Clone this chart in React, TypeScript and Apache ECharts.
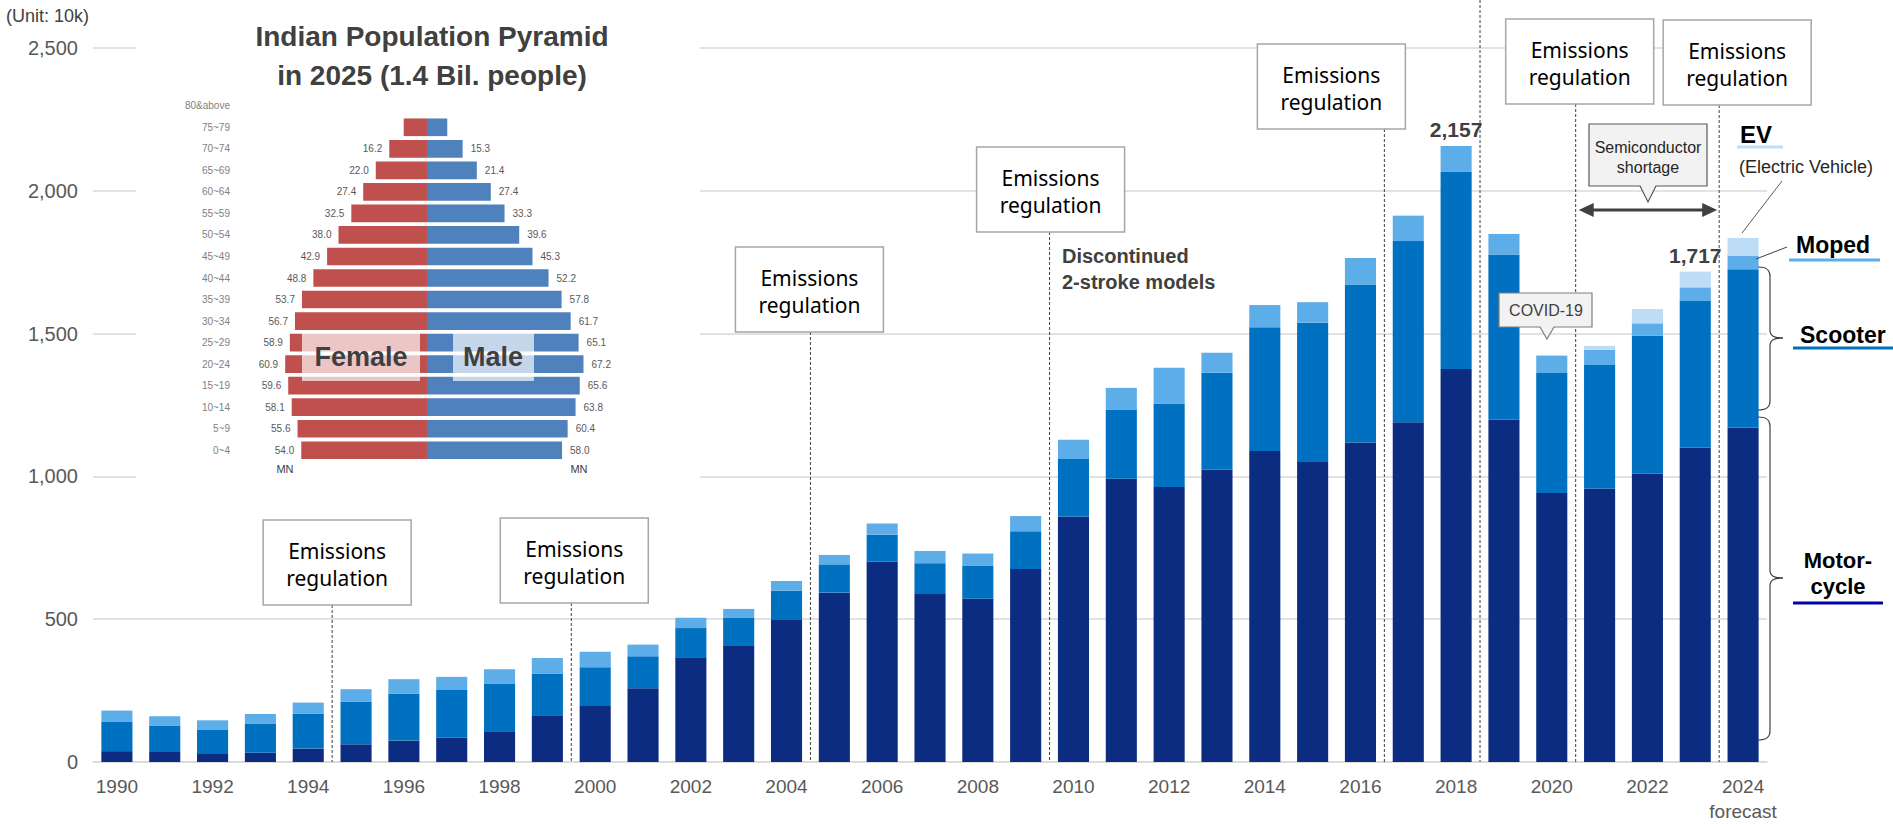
import React, { useEffect, useRef } from 'react';
import * as echarts from 'echarts';

// ---------- data ----------
const years = ['1990','1991','1992','1993','1994','1995','1996','1997','1998','1999','2000','2001','2002','2003','2004','2005','2006','2007','2008','2009','2010','2011','2012','2013','2014','2015','2016','2017','2018','2019','2020','2021','2022','2023','2024'];
const motorcycle = [38,35,28,32,47,62,75,86,108,164,196,258,367,409,497,593,702,588,572,676,860,992,963,1023,1089,1050,1119,1190,1376,1199,942,958,1010,1101,1171];
const scooter = [104,93,86,103,123,150,165,166,167,146,136,112,102,97,103,99,94,108,116,132,201,242,292,340,433,488,553,634,690,578,420,432,482,513,554];
const moped = [38,32,32,33,38,43,50,46,50,54,54,41,36,30,34,33,39,43,42,53,67,76,125,70,78,72,93,89,91,72,61,53,44,48,48];
const ev = [null,null,null,null,null,null,null,null,null,null,null,null,null,null,null,null,null,null,null,null,null,null,null,null,null,null,null,null,null,null,null,14,50,55,62];
const totalLabelYears = ['2018', '2023'];
const forecastYear = '2024';

const ageGroups = ['0~4','5~9','10~14','15~19','20~24','25~29','30~34','35~39','40~44','45~49','50~54','55~59','60~64','65~69','70~74','75~79','80&above'];
const femaleMN = [54.0,55.6,58.1,59.6,60.9,58.9,56.7,53.7,48.8,42.9,38.0,32.5,27.4,22.0,16.2,10.0,null];
const maleMN = [58.0,60.4,63.8,65.6,67.2,65.1,61.7,57.8,52.2,45.3,39.6,33.3,27.4,21.4,15.3,8.7,null];
const hiddenLabelAges = ['75~79', '80&above'];

// annotation layout (boundary after a year)
const regulationBoxes = [
  { after: '1994', dx: 5, top: 520 },
  { after: '1999', dx: 3, top: 518 },
  { after: '2004', dx: -1, top: 247 },
  { after: '2009', dx: 1, top: 147 },
  { after: '2016', dx: -53, top: 44 },
  { after: '2020', dx: 4, top: 19 },
  { after: '2023', dx: 18, top: 20 },
];
const plainDashedAfter = ['2018'];

const C_MOTOR = '#0b2c80';
const C_SCOOT = '#0070c0';
const C_MOPED = '#5dade8';
const C_EV = '#bddcf5';
const AR = '"Liberation Sans", Arial, sans-serif';
const NS = '"Noto Sans", "Open Sans", sans-serif';

function txt(text: string, x: number, y: number, font: string, fill: string, align = 'center', z = 10, lineHeight?: number) {
  return {
    type: 'text', z, x: 0, y: 0,
    style: { text, x, y, font, fill, lineHeight, textAlign: align, textVerticalAlign: 'middle', align, verticalAlign: 'middle' },
  };
}
function ln(x1: number, y1: number, x2: number, y2: number, stroke: string, lineWidth = 1, dash?: number[], z = 10) {
  return { type: 'line', z, shape: { x1, y1, x2, y2 }, style: { stroke, lineWidth, lineDash: dash } };
}
function bz(x1: number, y1: number, cpx1: number, cpy1: number, cpx2: number, cpy2: number, x2: number, y2: number) {
  return { type: 'bezierCurve', z: 10, shape: { x1, y1, cpx1, cpy1, cpx2, cpy2, x2, y2 }, style: { stroke: '#404040', lineWidth: 1.2, fill: null } };
}
function brace(x: number, yTop: number, yBot: number, yMid: number, tipX: number) {
  return [
    bz(x - 12, yTop, x - 3, yTop, x, yTop + 3, x, yTop + 9),
    ln(x, yTop + 9, x, yMid - 8, '#404040', 1.2),
    bz(x, yMid - 8, x, yMid - 2, x + 4, yMid, tipX, yMid),
    bz(tipX, yMid, x + 4, yMid, x, yMid + 2, x, yMid + 8),
    ln(x, yMid + 8, x, yBot - 9, '#404040', 1.2),
    bz(x, yBot - 9, x, yBot - 3, x - 3, yBot, x - 12, yBot),
  ];
}

export default function App() {
  const ref = useRef<HTMLDivElement>(null);
  useEffect(() => {
    const chart = echarts.init(ref.current!, null, { renderer: 'svg' });
    const totals = years.map((_, i) => motorcycle[i] + scooter[i] + moped[i] + (ev[i] || 0));
    const topLabel = (i: number) => ({
      show: true, position: 'top', distance: 6,
      formatter: totals[i].toLocaleString('en-US'),
      fontFamily: AR, fontWeight: 'bold', fontSize: 21, color: '#404040',
    });
    const mopedData = moped.map((v, i) => (totalLabelYears.includes(years[i]) && ev[i] == null ? { value: v, label: topLabel(i) } : v));
    const evData = ev.map((v, i) => (v != null && totalLabelYears.includes(years[i]) ? { value: v, label: topLabel(i) } : v));

    const option: any = {
      animation: false,
      backgroundColor: '#ffffff',
      grid: [
        { left: 93, right: 126, top: 48, bottom: 61 },
        { left: 264, width: 326, top: 95, height: 366 },
      ],
      xAxis: [
        {
          type: 'category', data: years, gridIndex: 0,
          axisTick: { show: false },
          axisLine: { show: true, lineStyle: { color: '#d9d9d9', width: 1.5 } },
          axisLabel: {
            interval: 1, margin: 12, fontSize: 19, color: '#595959', fontFamily: AR, lineHeight: 25,
            formatter: (v: string) => (v === forecastYear ? v + '\nforecast' : v),
          },
        },
        { type: 'value', gridIndex: 1, min: -70, max: 70, show: false },
      ],
      yAxis: [
        {
          type: 'value', gridIndex: 0, min: 0, max: 2500, interval: 500,
          axisLabel: { fontSize: 20, color: '#595959', fontFamily: AR, margin: 15, formatter: (v: number) => v.toLocaleString('en-US') },
          splitLine: { lineStyle: { color: '#d9d9d9', width: 1.5 } },
          axisLine: { show: false }, axisTick: { show: false },
        },
        {
          type: 'category', gridIndex: 1, data: ageGroups, z: 4,
          axisLine: { show: false }, axisTick: { show: false },
          axisLabel: { margin: 34, fontSize: 10, color: '#7f7f7f', fontFamily: AR },
        },
      ],
      series: [
        { name: 'Motorcycle', type: 'bar', stack: 'tw', data: motorcycle, itemStyle: { color: C_MOTOR }, barCategoryGap: '35%', xAxisIndex: 0, yAxisIndex: 0 },
        { name: 'Scooter', type: 'bar', stack: 'tw', data: scooter, itemStyle: { color: C_SCOOT }, xAxisIndex: 0, yAxisIndex: 0 },
        { name: 'Moped', type: 'bar', stack: 'tw', data: mopedData, itemStyle: { color: C_MOPED }, xAxisIndex: 0, yAxisIndex: 0 },
        { name: 'EV', type: 'bar', stack: 'tw', data: evData, itemStyle: { color: C_EV }, xAxisIndex: 0, yAxisIndex: 0 },
        {
          name: 'Female', type: 'bar', stack: 'pyr', xAxisIndex: 1, yAxisIndex: 1, z: 3, barCategoryGap: '18%',
          itemStyle: { color: '#c0504d' },
          data: femaleMN.map((v, i) => (v == null ? null : { value: -v, label: { show: !hiddenLabelAges.includes(ageGroups[i]) } })),
          label: { show: true, position: 'left', distance: 7, fontSize: 10, color: '#595959', fontFamily: AR, formatter: (p: any) => Math.abs(p.value).toFixed(1) },
        },
        {
          name: 'Male', type: 'bar', stack: 'pyr', xAxisIndex: 1, yAxisIndex: 1, z: 3,
          itemStyle: { color: '#4f81bd' },
          data: maleMN.map((v, i) => (v == null ? null : { value: v, label: { show: !hiddenLabelAges.includes(ageGroups[i]) } })),
          label: { show: true, position: 'right', distance: 8, fontSize: 10, color: '#595959', fontFamily: AR, formatter: (p: any) => Number(p.value).toFixed(1) },
        },
      ],
    };
    chart.setOption(option);

    const xp = (c: string) => chart.convertToPixel({ xAxisIndex: 0 }, c) as number;
    const y0 = chart.convertToPixel({ yAxisIndex: 0 }, 0) as number;
    const boundary = (y: string) => {
      const i = years.indexOf(y);
      return (xp(years[i]) + xp(years[i + 1])) / 2;
    };

    const g: any[] = [];
    // pyramid inset background
    g.push({ type: 'rect', z: 1, shape: { x: 136, y: 0, width: 564, height: 485 }, style: { fill: '#ffffff' } });
    g.push(txt('Indian Population Pyramid', 432, 36, `bold 28px ${AR}`, '#404040'));
    g.push(txt('in 2025 (1.4 Bil. people)', 432, 75, `bold 28px ${AR}`, '#404040'));
    g.push({ type: 'rect', z: 5, shape: { x: 302, y: 333, width: 118, height: 48 }, style: { fill: 'rgba(255,255,255,0.68)' } });
    g.push({ type: 'rect', z: 5, shape: { x: 453, y: 333, width: 81, height: 48 }, style: { fill: 'rgba(255,255,255,0.68)' } });
    g.push(txt('Female', 361, 357, `bold 27px ${AR}`, '#404040', 'center', 6));
    g.push(txt('Male', 493, 357, `bold 27px ${AR}`, '#404040', 'center', 6));
    g.push(txt('MN', 285, 469, `11px ${AR}`, '#404040'));
    g.push(txt('MN', 579, 469, `11px ${AR}`, '#404040'));
    g.push(txt('(Unit: 10k)', 6, 16, `18px ${AR}`, '#404040', 'left'));

    // regulation boxes + dashed lines
    regulationBoxes.forEach((b) => {
      const bx = boundary(b.after);
      const cx = bx + b.dx;
      const w = 148, h = 85;
      g.push({ type: 'rect', z: 10, shape: { x: cx - w / 2, y: b.top, width: w, height: h }, style: { fill: '#ffffff', stroke: '#a6a6a6', lineWidth: 1.5 } });
      g.push(txt('Emissions\nregulation', cx, b.top + 44, `21px ${NS}`, '#000000', 'center', 11, 27));
      g.push(ln(bx, b.top + h, bx, y0, '#404040', 1, [3, 2], 9));
    });
    plainDashedAfter.forEach((a) => {
      const bx = boundary(a);
      g.push(ln(bx, 0, bx, y0, '#404040', 1, [3, 2], 9));
    });

    // discontinued note
    g.push(txt('Discontinued\n2-stroke models', 1062, 269, `bold 20px ${AR}`, '#404040', 'left', 10, 26));

    // semiconductor shortage callout
    g.push({ type: 'rect', z: 10, shape: { x: 1589, y: 124, width: 118, height: 62 }, style: { fill: '#f2f2f2', stroke: '#595959', lineWidth: 1.2 } });
    g.push({ type: 'polygon', z: 11, shape: { points: [[1640, 185], [1648, 202], [1656, 185]] }, style: { fill: '#f2f2f2' } });
    g.push({ type: 'polyline', z: 11, shape: { points: [[1640, 186], [1648, 202], [1656, 186]] }, style: { stroke: '#595959', lineWidth: 1.2, fill: null } });
    g.push(txt('Semiconductor\nshortage', 1648, 157, `16px ${AR}`, '#262626', 'center', 12, 20));
    const arrL = boundary('2020') + 3, arrR = boundary('2023') - 2;
    g.push(ln(arrL + 10, 210, arrR - 10, 210, '#404040', 3));
    g.push({ type: 'polygon', z: 10, shape: { points: [[arrL, 210], [arrL + 15, 203], [arrL + 15, 217]] }, style: { fill: '#404040' } });
    g.push({ type: 'polygon', z: 10, shape: { points: [[arrR, 210], [arrR - 15, 203], [arrR - 15, 217]] }, style: { fill: '#404040' } });

    // COVID callout
    g.push({ type: 'rect', z: 10, shape: { x: 1499, y: 293, width: 93, height: 34 }, style: { fill: '#f2f2f2', stroke: '#7f7f7f', lineWidth: 1.2 } });
    g.push({ type: 'polygon', z: 11, shape: { points: [[1540, 326], [1547, 339], [1554, 326]] }, style: { fill: '#f2f2f2' } });
    g.push({ type: 'polyline', z: 11, shape: { points: [[1540, 327], [1547, 339], [1554, 327]] }, style: { stroke: '#7f7f7f', lineWidth: 1.2, fill: null } });
    g.push(txt('COVID-19', 1546, 310, `16px ${AR}`, '#404040', 'center', 12));

    // right-side legend labels
    g.push(txt('EV', 1740, 134, `bold 24px ${AR}`, '#000000', 'left'));
    g.push(ln(1737, 147, 1783, 147, C_EV, 3));
    g.push(txt('(Electric Vehicle)', 1739, 167, `18px ${AR}`, '#262626', 'left'));
    g.push(ln(1782, 181, 1742, 233, '#595959', 1));
    g.push(txt('Moped', 1796, 245, `bold 23px ${AR}`, '#000000', 'left'));
    g.push(ln(1789, 260, 1880, 260, C_MOPED, 3));
    g.push(ln(1787, 247, 1756, 259, '#404040', 1));
    g.push(txt('Scooter', 1800, 335, `bold 23px ${AR}`, '#000000', 'left'));
    g.push(ln(1793, 348, 1893, 348, C_SCOOT, 3));
    g.push(txt('Motor-\ncycle', 1838, 573, `bold 22px ${AR}`, '#000000', 'center', 10, 26));
    g.push(ln(1793, 603, 1883, 603, '#0000a8', 3));
    brace(1770, 267, 410, 338, 1783).forEach((e) => g.push(e));
    brace(1770, 417, 740, 578, 1783).forEach((e) => g.push(e));

    chart.setOption({ graphic: g });
    return () => chart.dispose();
  }, []);
  return <div ref={ref} style={{ position: 'absolute', left: 0, top: 0, width: 1893, height: 824 }} />;
}
